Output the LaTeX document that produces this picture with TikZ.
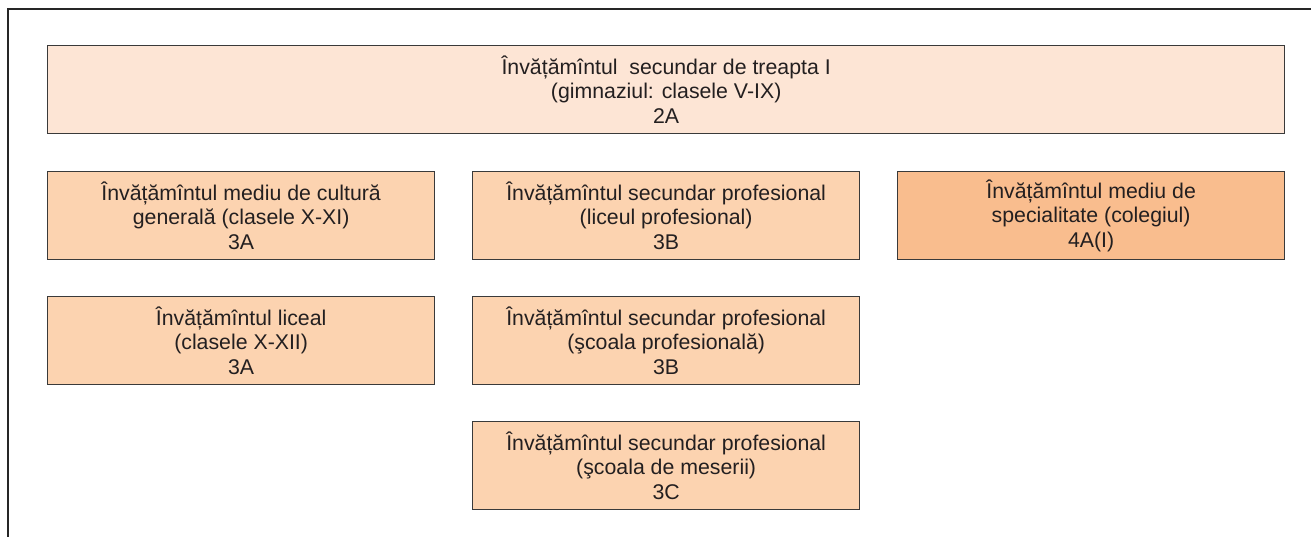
\documentclass[tikz,border=0pt]{standalone}
\usepackage{fontspec}
\setmainfont{Liberation Sans}
\definecolor{lightfill}{HTML}{FDE5D5}
\definecolor{midfill}{HTML}{FCD3B0}
\definecolor{darkfill}{HTML}{F9BD8E}
\definecolor{edge}{HTML}{3A3A3A}
\definecolor{txt}{HTML}{231F20}
\begin{document}
\begin{tikzpicture}[x=1pt,y=-1pt,
  box/.style={draw=edge,line width=1.3pt,fill=midfill,minimum width=387pt,minimum height=88pt,
    inner sep=0pt,align=center,text=txt,font=\fontsize{21.3}{24.5}\selectfont,anchor=north west},
  frameline/.style={draw=black!85,line width=2.4pt}]
\useasboundingbox (0,0) rectangle (1311,537);
\draw[frameline] (8,537) -- (8,9) -- (1311,9);
\node[box,fill=lightfill,minimum width=1237pt] (top) at (47,45) {Învățămîntul\ \ secundar de treapta I\\(gimnaziul: clasele V-IX)\\2A};
\node[box] (mcg) at (47,171) {Învățămîntul mediu de cultură\\generală (clasele X-XI)\\3A};
\node[box] (lp) at (472,171) {Învățămîntul secundar profesional\\(liceul profesional)\\3B};
\node[box,fill=darkfill] (col) at (897,171) {Învățămîntul mediu de\\specialitate (colegiul)\\4A(I)};
\node[box] (lic) at (47,296) {Învățămîntul liceal\\(clasele X-XII)\\3A};
\node[box] (sp) at (472,296) {Învățămîntul secundar profesional\\(şcoala profesională)\\3B};
\node[box] (sm) at (472,421) {Învățămîntul secundar profesional\\(şcoala de meserii)\\3C};
\end{tikzpicture}
\end{document}
